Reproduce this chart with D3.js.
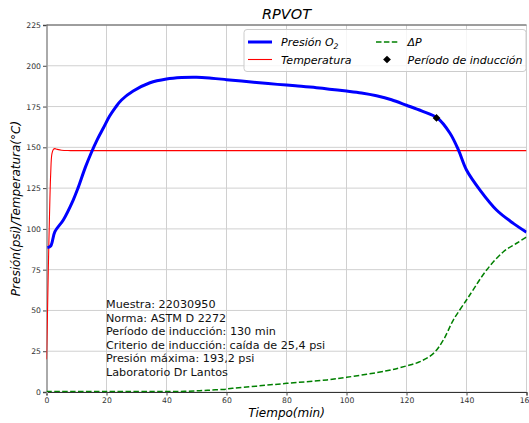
<!DOCTYPE html>
<html>
<head>
<meta charset="utf-8">
<script src="https://cdn.jsdelivr.net/npm/d3@7"></script>
<style>
  body { margin: 0; background: #fff; }
  svg { display: block; font-family: "DejaVu Sans", sans-serif; }
</style>
</head>
<body>
<svg id="chart" width="529" height="423"></svg>
<script>
// Presión O2 (psi)
var presTime = [0.3, 1.4, 2.8, 5.6, 8.9, 10.5, 13, 15, 17, 19, 21, 23, 25, 28.9, 34.5, 40, 45, 50, 55, 60, 65, 70, 77, 83, 90, 100, 105, 110, 115, 120, 125, 130.4, 134.5, 137.3, 140, 144.5, 150, 155.6, 160];
var presVal  = [88.5, 89.5, 98.3, 105.5, 117.7, 125, 138, 147, 155, 162, 169, 174.5, 179, 184.5, 189.6, 191.9, 192.8, 193, 192.4, 191.5, 190.6, 189.7, 188.6, 187.7, 186.6, 184.5, 183.3, 181.6, 179.2, 175.8, 172.3, 167.8, 158.6, 148.4, 136.1, 123.8, 111.6, 103.4, 98];

// Temperatura (°C)
var tempTime = [0, 0.3, 0.6, 1.0, 1.4, 1.8, 2.3, 2.8, 3.5, 5, 8, 20, 40, 60, 80, 100, 120, 140, 160];
var tempVal  = [20, 45, 75, 108, 134, 146, 148.8, 149.2, 148.8, 148.2, 148, 148, 148, 148, 148, 148, 148, 148, 148];

// ΔP
var dpTime = [0, 20, 40, 46, 51, 55, 59, 62, 70, 80, 93.5, 100, 113.4, 120, 124.5, 129, 132.3, 135.6, 140, 142, 146.7, 152.3, 156.7, 160];
var dpVal  = [0.3, 0.3, 0.3, 0.4, 0.8, 1.2, 1.6, 2.3, 3.6, 5.3, 7.4, 9, 13, 16, 18.6, 23.7, 31.9, 44.1, 56.4, 62, 74.8, 86, 91.2, 95];

// Período de inducción
var indTime = [130];
var indVal = [168];

var xTicks = [0, 20, 40, 60, 80, 100, 120, 140, 160];
var yTicks = [0, 25, 50, 75, 100, 125, 150, 175, 200, 225];

var infoLines = [
  "Muestra: 22030950",
  "Norma: ASTM D 2272",
  "Período de inducción: 130 min",
  "Criterio de inducción: caída de 25,4 psi",
  "Presión máxima: 193,2 psi",
  "Laboratorio Dr Lantos"
];

var svg = d3.select("#chart");
var pLeft = 46.5, pRight = 526.5, pTop = 25, pBottom = 392;

var x = d3.scaleLinear().domain([0, 160]).range([pLeft, pRight]);
var y = d3.scaleLinear().domain([0, 225]).range([pBottom, pTop]);

svg.append("rect").attr("width", 529).attr("height", 423).attr("fill", "#fff");

// grid
svg.append("g").selectAll("line").data(xTicks).enter().append("line")
  .attr("x1", d => x(d)).attr("x2", d => x(d))
  .attr("y1", pTop).attr("y2", pBottom)
  .attr("stroke", "#d0d0d0").attr("stroke-width", 1);
svg.append("g").selectAll("line").data(yTicks).enter().append("line")
  .attr("x1", pLeft).attr("x2", pRight)
  .attr("y1", d => y(d)).attr("y2", d => y(d))
  .attr("stroke", "#d0d0d0").attr("stroke-width", 1);

// axes
var xAxis = svg.append("g")
  .attr("transform", "translate(0," + pBottom + ")")
  .call(d3.axisBottom(x).tickValues(xTicks).tickSize(3.5).tickPadding(2));
var yAxis = svg.append("g")
  .attr("transform", "translate(" + pLeft + ",0)")
  .call(d3.axisLeft(y).tickValues(yTicks).tickSize(3.5).tickPadding(2));
[xAxis, yAxis].forEach(function (a) {
  a.selectAll("text").attr("font-size", "7.7px").attr("fill", "#333")
    .attr("font-family", "DejaVu Sans");
  a.selectAll("line").attr("stroke", "#444");
});
xAxis.select(".domain").attr("stroke", "#333");
yAxis.select(".domain").attr("stroke", "#aaa").attr("stroke-width", 2);

// top spine
svg.append("line").attr("x1", pLeft).attr("x2", pRight).attr("y1", pTop).attr("y2", pTop)
  .attr("stroke", "#555").attr("stroke-width", 1);

svg.append("clipPath").attr("id", "clip").append("rect")
  .attr("x", pLeft).attr("y", pTop).attr("width", pRight - pLeft).attr("height", pBottom - pTop);
var plot = svg.append("g").attr("clip-path", "url(#clip)");

function drawLine(ts, vs, color, width, dash) {
  var line = d3.line()
    .x(function (d, i) { return x(ts[i]); })
    .y(function (d) { return y(d); })
    .curve(d3.curveCatmullRom.alpha(0.5));
  var p = plot.append("path").datum(vs)
    .attr("d", line)
    .attr("fill", "none")
    .attr("stroke", color)
    .attr("stroke-width", width)
    .attr("stroke-linejoin", "round");
  if (dash) p.attr("stroke-dasharray", dash);
}

drawLine(dpTime, dpVal, "#008000", 1.5, "5.5,2.4");
drawLine(tempTime, tempVal, "#ff0000", 1.1);
drawLine(presTime, presVal, "#0000ff", 3);

// induction marker
var diamond = d3.symbol().type(d3.symbolSquare).size(30);
plot.selectAll(".ind").data(indVal).enter().append("path")
  .attr("class", "ind")
  .attr("d", diamond)
  .attr("transform", function (d, i) { return "translate(" + x(indTime[i]) + "," + y(d) + ") rotate(45)"; })
  .attr("fill", "#000");

// title
svg.append("text").attr("x", (pLeft + pRight) / 2).attr("y", 19)
  .attr("text-anchor", "middle").attr("font-size", "14.5px").attr("font-style", "italic")
  .text("RPVOT");

// axis labels
svg.append("text").attr("x", (pLeft + pRight) / 2).attr("y", 417)
  .attr("text-anchor", "middle").attr("font-size", "12px").attr("font-style", "italic")
  .text("Tiempo(min)");
svg.append("text")
  .attr("transform", "translate(20," + (pTop + pBottom) / 2 + ") rotate(-90)")
  .attr("text-anchor", "middle").attr("font-size", "12px").attr("font-style", "italic")
  .text("Presión(psi)/Temperatura(°C)");

// info text
svg.append("g").selectAll("text").data(infoLines).enter().append("text")
  .attr("x", 106)
  .attr("y", function (d, i) { return 308 + i * 13.5; })
  .attr("font-size", "11.2px").attr("fill", "#111")
  .text(function (d) { return d; });

// legend
var lg = svg.append("g");
lg.append("rect").attr("x", 244).attr("y", 29.5).attr("width", 282).attr("height", 42)
  .attr("rx", 3).attr("fill", "#fff").attr("fill-opacity", 0.8)
  .attr("stroke", "#ccc").attr("stroke-width", 1);
var row1 = 42, row2 = 59.5;
lg.append("line").attr("x1", 248).attr("x2", 272).attr("y1", row1).attr("y2", row1)
  .attr("stroke", "#0000ff").attr("stroke-width", 3);
var t1 = lg.append("text").attr("x", 281).attr("y", row1 + 4).attr("font-size", "11px").attr("font-style", "italic");
t1.append("tspan").text("Presión O");
t1.append("tspan").attr("font-size", "7.7px").attr("dy", 3).text("2");
lg.append("line").attr("x1", 248).attr("x2", 272).attr("y1", row2).attr("y2", row2)
  .attr("stroke", "#ff0000").attr("stroke-width", 1.1);
lg.append("text").attr("x", 281).attr("y", row2 + 4).attr("font-size", "11px").attr("font-style", "italic")
  .text("Temperatura");
lg.append("line").attr("x1", 376).attr("x2", 398).attr("y1", row1).attr("y2", row1)
  .attr("stroke", "#008000").attr("stroke-width", 1.5).attr("stroke-dasharray", "5.5,2.4");
lg.append("text").attr("x", 407.5).attr("y", row1 + 4).attr("font-size", "11px").attr("font-style", "italic")
  .text("ΔP");
lg.append("path").attr("d", diamond)
  .attr("transform", "translate(387," + row2 + ") rotate(45)").attr("fill", "#000");
lg.append("text").attr("x", 407.5).attr("y", row2 + 4).attr("font-size", "11px").attr("font-style", "italic")
  .text("Período de inducción");
</script>
</body>
</html>
